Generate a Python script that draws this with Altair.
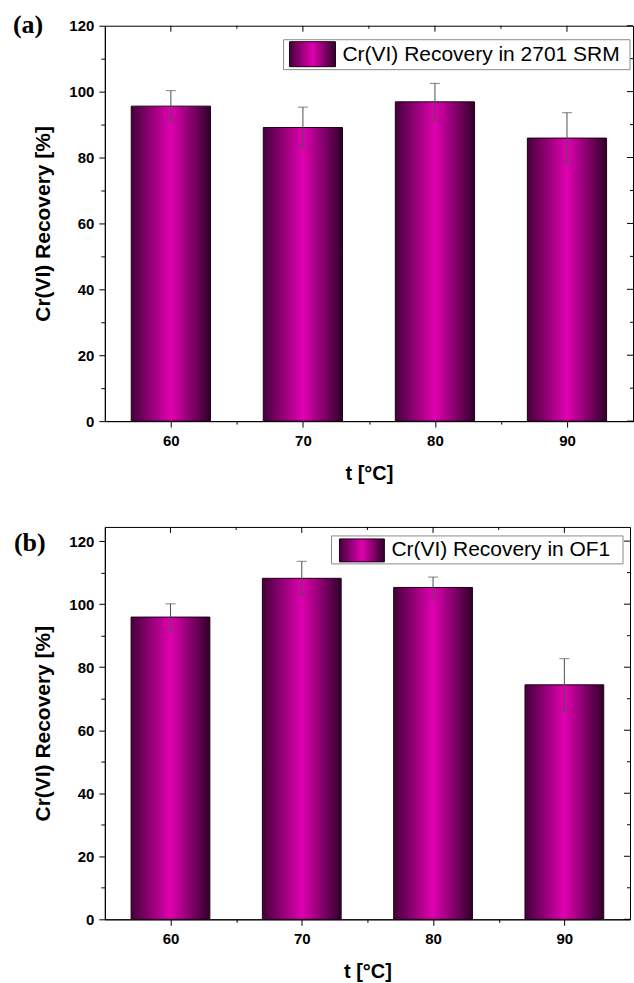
import altair as alt
import pandas as pd

# ---- data ----
temps = [60, 70, 80, 90]
rec_a = [95.6, 89.1, 96.9, 85.9]
err_a = [4.7, 6.2, 5.6, 7.7]
rec_b = [95.9, 108.2, 105.3, 74.4]
err_b = [4.2, 5.4, 3.3, 8.3]

x_major = [60, 70, 80, 90]
x_minor = [65, 75, 85]
y_major = [0, 20, 40, 60, 80, 100, 120]
y_minor = [10, 30, 50, 70, 90, 110]

legend_a = "Cr(VI) Recovery in 2701 SRM"
legend_b = "Cr(VI) Recovery in OF1"
x_title = "t [°C]"
y_title = "Cr(VI) Recovery [%]"

SANS = "Liberation Sans"
SERIF = "Liberation Serif"

bar_grad = {
    "gradient": "linear", "x1": 0, "x2": 1, "y1": 0, "y2": 0,
    "stops": [
        {"offset": 0.0, "color": "#45003a"},
        {"offset": 0.5, "color": "#e000b0"},
        {"offset": 1.0, "color": "#30002a"},
    ],
}


def panel(values, errors, legend_label, tag, W, H, ymax, leg, tag_pos):
    df = pd.DataFrame({"t": temps, "v": values, "e": errors})
    base = alt.Chart(df).transform_calculate(
        x0="datum.t - 3", x1="datum.t + 3",
        lo="datum.v - datum.e", hi="datum.v + datum.e",
    )
    x_axis = alt.Axis(
        values=x_major + x_minor,
        labelExpr="datum.value % 10 === 0 ? datum.label : ''",
        tickSize={"condition": {"test": "datum.value % 10 === 0", "value": 6}, "value": 3},
        title=x_title, titleFontSize=20, titleFont=SANS, titleFontWeight="bold",
        titleColor="black", titlePadding=15,
        labelFont=SANS, labelFontSize=15, labelFontWeight="bold", labelColor="black",
        labelPadding=6, labelFlush=False, grid=False,
        domainColor="black", tickColor="black",
    )
    y_axis = alt.Axis(
        values=y_major + y_minor,
        labelExpr="datum.value % 20 === 0 ? datum.label : ''",
        tickSize={"condition": {"test": "datum.value % 20 === 0", "value": 6}, "value": 4},
        title=y_title, titleFontSize=21, titleFont=SANS, titleFontWeight="bold",
        titleColor="black", titlePadding=15,
        labelFont=SANS, labelFontSize=15, labelFontWeight="bold", labelColor="black",
        labelPadding=5, grid=False,
        domainColor="black", tickColor="black",
    )
    xs = alt.Scale(domain=[55, 95], nice=False, zero=False)
    ys = alt.Scale(domain=[0, ymax], nice=False)

    def X(f):
        return alt.X(f, type="quantitative", scale=xs, axis=x_axis)

    def Y(f):
        return alt.Y(f, type="quantitative", scale=ys, axis=y_axis)

    bars = base.mark_bar(fill=bar_grad, stroke="#1a0016", strokeWidth=1).encode(
        x=X("x0"), x2="x1:Q", y=Y("v"), y2=alt.datum(0),
    )
    err_line = base.mark_rule(color="#4d4d4d", strokeWidth=1).encode(
        x=X("t"), y=Y("lo"), y2="hi:Q"
    )
    cap_hi = base.mark_tick(orient="horizontal", size=10, thickness=1, color="#4d4d4d").encode(
        x=X("t"), y=Y("hi")
    )
    cap_lo = base.mark_tick(orient="horizontal", size=10, thickness=1, color="#4d4d4d").encode(
        x=X("t"), y=Y("lo")
    )

    # mirrored inner ticks on top and right frame
    top_major = alt.Chart(pd.DataFrame({"t": x_major})).mark_rule(color="black").encode(
        x=X("t"), y=alt.value(0), y2=alt.value(6))
    top_minor = alt.Chart(pd.DataFrame({"t": x_minor})).mark_rule(color="black").encode(
        x=X("t"), y=alt.value(0), y2=alt.value(3))
    right_major = alt.Chart(pd.DataFrame({"v": y_major})).mark_rule(color="black").encode(
        y=Y("v"), x=alt.value(W), x2=alt.value(W - 6))
    right_minor = alt.Chart(pd.DataFrame({"v": y_minor})).mark_rule(color="black").encode(
        y=Y("v"), x=alt.value(W), x2=alt.value(W - 3))

    lx0, lx1, ly0, ly1, sx0, sx1, sy0, sy1, tx, ty = leg
    ldf = pd.DataFrame({"label": [legend_label]})
    leg_box = alt.Chart(ldf).mark_rect(fill="white", stroke="#8a8a8a", strokeWidth=1).encode(
        x=alt.value(lx0), x2=alt.value(lx1), y=alt.value(ly0), y2=alt.value(ly1))
    leg_sw = alt.Chart(ldf).mark_rect(fill=bar_grad, stroke="#1a0016", strokeWidth=1).encode(
        x=alt.value(sx0), x2=alt.value(sx1), y=alt.value(sy0), y2=alt.value(sy1))
    leg_txt = alt.Chart(ldf).mark_text(
        align="left", baseline="middle", font=SANS, fontSize=21, color="black"
    ).encode(x=alt.value(tx), y=alt.value(ty), text="label:N")

    tdf = pd.DataFrame({"label": [tag]})
    tag_txt = alt.Chart(tdf).mark_text(
        align="left", baseline="middle", font=SERIF, fontSize=26, fontWeight="bold", color="black"
    ).encode(x=alt.value(tag_pos[0]), y=alt.value(tag_pos[1]), text="label:N")

    return alt.layer(
        bars, err_line, cap_hi, cap_lo,
        top_major, top_minor, right_major, right_minor,
        leg_box, leg_sw, leg_txt, tag_txt,
    ).properties(width=W, height=H)


pa = panel(rec_a, err_a, legend_a, "(a)", 529, 396, 120,
           (179, 526, 14, 44, 185, 231, 16, 41, 238, 29), (-92, -1))
pb = panel(rec_b, err_b, legend_b, "(b)", 526, 393, 124.5,
           (227, 519, 9, 37, 235, 280, 12, 35, 287, 23), (-91, 16))

chart = alt.vconcat(pa, pb, spacing=42).properties(
    padding={"left": 12, "top": 10, "right": 0, "bottom": 0},
    background="white",
).configure_view(stroke="black", strokeWidth=1)

chart.save("out.html", embed_options={"renderer": "svg", "actions": False})
